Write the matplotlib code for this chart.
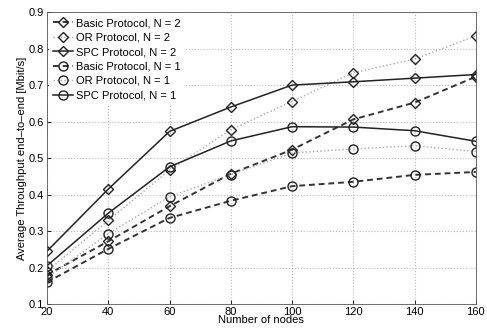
import matplotlib
matplotlib.use("Agg")
import matplotlib.pyplot as plt

nodes = [20, 40, 60, 80, 100, 120, 140, 160]

basic_n2 = [0.180, 0.272, 0.368, 0.457, 0.523, 0.606, 0.652, 0.723]
or_n2 = [0.190, 0.329, 0.467, 0.578, 0.655, 0.734, 0.771, 0.835]
spc_n2 = [0.245, 0.415, 0.573, 0.640, 0.700, 0.709, 0.719, 0.729]
basic_n1 = [0.160, 0.251, 0.336, 0.383, 0.423, 0.435, 0.454, 0.462]
or_n1 = [0.172, 0.293, 0.394, 0.455, 0.514, 0.525, 0.534, 0.518]
spc_n1 = [0.205, 0.349, 0.476, 0.547, 0.586, 0.585, 0.575, 0.546]

labels = [
    "Basic Protocol, N = 2",
    "OR Protocol, N = 2",
    "SPC Protocol, N = 2",
    "Basic Protocol, N = 1",
    "OR Protocol, N = 1",
    "SPC Protocol, N = 1",
]


def main():
    plt.rcParams["font.family"] = ["Liberation Sans", "DejaVu Sans"]
    fig = plt.figure(figsize=(4.87, 3.36), dpi=100)
    ax = fig.add_axes([0.0965, 0.095, 0.8805, 0.869])

    series = [basic_n2, or_n2, spc_n2, basic_n1, or_n1, spc_n1]
    markers = ["D", "D", "D", "o", "o", "o"]
    styles = [(0, (3, 2)), ":", "-", (0, (3, 2)), ":", "-"]
    colors = ["#333333", "#aaaaaa", "#222222", "#333333", "#aaaaaa", "#222222"]
    widths = [1.4, 1.0, 1.1, 1.4, 1.0, 1.1]

    for ys, m, ls, c, lw, lab in zip(series, markers, styles, colors, widths, labels):
        ax.plot(
            nodes, ys,
            linestyle=ls, color=c, linewidth=lw,
            marker=m, markersize=6.5 if m == "o" else 5.5,
            markerfacecolor="none", markeredgecolor="#222222",
            markeredgewidth=1.0, label=lab,
        )

    ax.set_xlim(20, 160)
    ax.set_ylim(0.1, 0.9)
    ax.set_xticks(nodes)
    ax.set_yticks([0.1, 0.2, 0.3, 0.4, 0.5, 0.6, 0.7, 0.8, 0.9])
    ax.set_yticklabels(["0.1", "0.2", "0.3", "0.4", "0.5", "0.6", "0.7", "0.8", "0.9"])
    ax.grid(True, linestyle=":", color="#bbbbbb", linewidth=0.8)
    ax.tick_params(labelsize=8, direction="in", length=3, width=0.6, pad=2)
    for s in ax.spines.values():
        s.set_linewidth(0.6)
        s.set_color("#555555")
    ax.set_xlabel("Number of nodes", fontsize=8, labelpad=-1)
    ax.set_ylabel("Average Throughput end\u2013to\u2013end [Mbit/s]", fontsize=8, labelpad=1)

    leg = ax.legend(
        loc="upper left", fontsize=8, frameon=True, framealpha=1,
        edgecolor="none", handlelength=1.8, handletextpad=0.3,
        labelspacing=0.4, borderpad=0.35, borderaxespad=0.2,
    )
    leg.get_frame().set_linewidth(0)

    fig.savefig("out.png", dpi=100)
    plt.close(fig)


if __name__ == "__main__":
    main()
